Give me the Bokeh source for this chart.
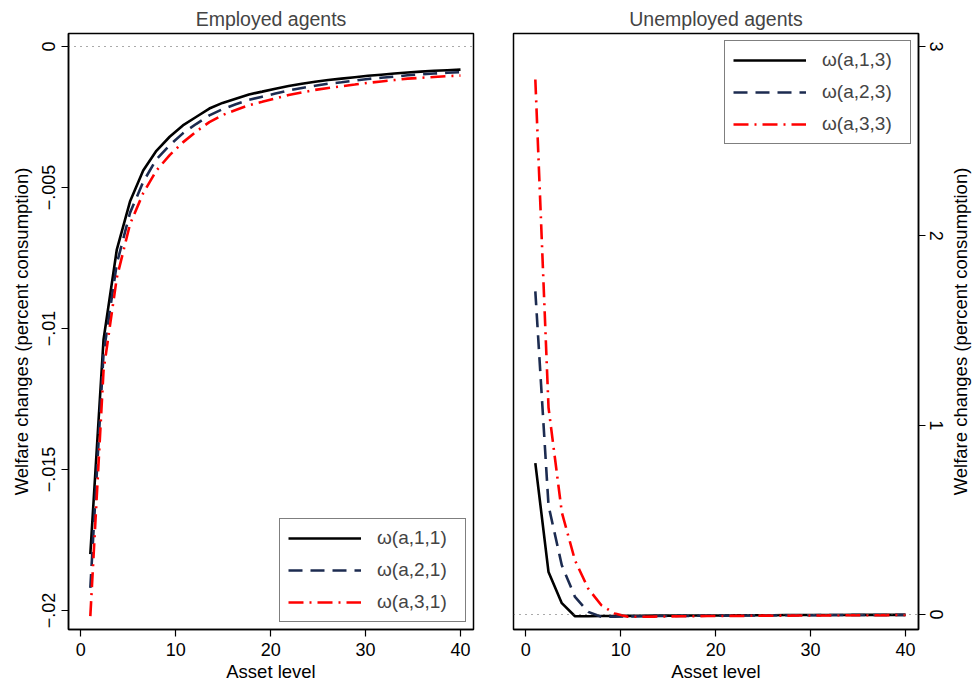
import math
from bokeh.plotting import figure
from bokeh.layouts import row
from bokeh.models import Span, FixedTicker, Legend, LegendItem, Range1d, Label
from bokeh.embed import file_html
from bokeh.resources import INLINE

# ---------------- data ----------------
asset_levels = [1.0, 2.39, 3.79, 5.18, 6.57, 7.96, 9.36, 10.75, 12.14, 13.54,
                14.93, 16.32, 17.71, 19.11, 20.5, 21.89, 23.29, 24.68, 26.07,
                27.46, 28.86, 30.25, 31.64, 33.04, 34.43, 35.82, 37.21, 38.61, 40.0]

emp_w11 = [-0.0180, -0.0104, -0.0072, -0.0055, -0.0044, -0.0037, -0.0032, -0.0028,
           -0.0025, -0.0022, -0.0020, -0.00185, -0.0017, -0.0016, -0.0015, -0.0014,
           -0.00132, -0.00125, -0.00119, -0.00114, -0.00109, -0.00104, -0.00100,
           -0.00096, -0.00092, -0.00089, -0.00086, -0.00084, -0.00082]
emp_w21 = [-0.0192, -0.0109, -0.0077, -0.0059, -0.0048, -0.0040, -0.00350, -0.00308,
           -0.00275, -0.00244, -0.00222, -0.00205, -0.00189, -0.00178, -0.00167,
           -0.00156, -0.00147, -0.00139, -0.00132, -0.00127, -0.00121, -0.00115,
           -0.00111, -0.00107, -0.00102, -0.00099, -0.00096, -0.00093, -0.00091]
emp_w31 = [-0.0202, -0.0115, -0.0082, -0.0063, -0.0052, -0.0044, -0.00385, -0.00340,
           -0.00302, -0.00268, -0.00243, -0.00225, -0.00208, -0.00196, -0.00184,
           -0.00172, -0.00163, -0.00154, -0.00147, -0.00141, -0.00135, -0.00129,
           -0.00124, -0.00119, -0.00114, -0.00111, -0.00108, -0.00105, -0.00103]

unemp_w13 = [0.80, 0.224, 0.060, -0.009, -0.009, -0.008, -0.008, -0.007, -0.007,
             -0.006, -0.006, -0.006, -0.005, -0.005, -0.005, -0.004, -0.004, -0.004,
             -0.004, -0.003, -0.003, -0.003, -0.003, -0.003, -0.002, -0.002, -0.002,
             -0.002, -0.002]
unemp_w23 = [1.707, 0.575, 0.26, 0.093, 0.014, -0.012, -0.011, -0.010, -0.009,
             -0.008, -0.008, -0.007, -0.007, -0.006, -0.006, -0.005, -0.005, -0.005,
             -0.004, -0.004, -0.004, -0.004, -0.003, -0.003, -0.003, -0.003, -0.003,
             -0.002, -0.002]
unemp_w33 = [2.826, 1.093, 0.54, 0.286, 0.137, 0.049, 0.005, -0.012, -0.012,
             -0.011, -0.010, -0.009, -0.009, -0.008, -0.008, -0.007, -0.007, -0.006,
             -0.006, -0.006, -0.005, -0.005, -0.005, -0.004, -0.004, -0.004, -0.004,
             -0.003, -0.003]

x_ticks = [0, 10, 20, 30, 40]
emp_y_ticks = [-0.02, -0.015, -0.01, -0.005, 0]
emp_y_labels = ["\u2212.02", "\u2212.015", "\u2212.01", "\u2212.005", "0"]
unemp_y_ticks = [0, 1, 2, 3]
unemp_y_labels = ["0", "1", "2", "3"]

panel_titles = ["Employed agents", "Unemployed agents"]
emp_labels = ["\u03c9(a,1,1)", "\u03c9(a,2,1)", "\u03c9(a,3,1)"]
unemp_labels = ["\u03c9(a,1,3)", "\u03c9(a,2,3)", "\u03c9(a,3,3)"]
x_label = "Asset level"
y_label = "Welfare changes (percent consumption)"

# ---------------- styling ----------------
FONT = "Liberation Sans"
COLORS = ["#000000", "#1c2b50", "#ff0000"]
DASHES = ["solid", "14 8", "15 6 2 6"]
WIDTHS = [2.6, 2.6, 2.6]
H = 685
TOP, BOTTOM = 33, 56
FRAME_H = H - TOP - BOTTOM


def style_axis(ax, label_standoff):
    ax.axis_line_color = "black"
    ax.axis_line_width = 1.5
    ax.major_tick_line_color = "black"
    ax.major_tick_line_width = 1.2
    ax.major_tick_out = 7
    ax.major_tick_in = 0
    ax.minor_tick_out = 0
    ax.minor_tick_in = 0
    ax.major_label_text_font = FONT
    ax.major_label_text_font_size = "18px"
    ax.major_label_text_color = "black"
    ax.major_label_standoff = 6
    ax.axis_label_text_font = FONT
    ax.axis_label_text_font_size = "18.5px"
    ax.axis_label_text_font_style = "normal"
    ax.axis_label_text_color = "black"
    ax.axis_label_standoff = label_standoff


def make_panel(title, yrange, yloc, width, min_left, min_right, ys, labels,
               yticks, ylabels, legend_loc):
    p = figure(width=width, height=H,
               x_range=Range1d(-1.3, 41.37), y_range=Range1d(*yrange),
               y_axis_location=yloc, output_backend="svg", toolbar_location=None,
               min_border_left=min_left, min_border_right=min_right,
               min_border_top=TOP, min_border_bottom=BOTTOM, title=title)
    p.title.text_font = FONT
    p.title.text_font_size = "19.5px"
    p.title.text_font_style = "normal"
    p.title.align = "center"
    p.title.standoff = 7
    p.grid.visible = False
    p.outline_line_color = "black"
    p.outline_line_width = 1.5
    p.background_fill_color = "white"
    p.border_fill_color = "white"

    p.add_layout(Span(location=0, dimension="width", line_color="#555555",
                      line_width=1, line_dash="1 5"))

    items = []
    for y, lab, c, d, w in zip(ys, labels, COLORS, DASHES, WIDTHS):
        r = p.line(asset_levels, y, line_color=c, line_dash=d, line_width=w)
        items.append(LegendItem(label=lab, renderers=[r]))

    leg = Legend(items=items, location=legend_loc, margin=7, padding=8,
                 spacing=10, label_height=20, label_width=80, glyph_width=73,
                 glyph_height=20, label_standoff=16,
                 label_text_font=FONT, label_text_font_size="19px",
                 border_line_color="black", border_line_width=1.2,
                 background_fill_color="white", background_fill_alpha=1.0)
    p.add_layout(leg)

    p.xaxis.ticker = FixedTicker(ticks=x_ticks)
    p.xaxis.axis_label = x_label
    p.yaxis.ticker = FixedTicker(ticks=yticks)
    p.yaxis.major_label_overrides = {t: s for t, s in zip(yticks, ylabels)}
    p.yaxis.major_label_orientation = "vertical"
    for ax in p.xaxis:
        style_axis(ax, 2)
    for ax in p.yaxis:
        style_axis(ax, 8)
    return p


p1 = make_panel(panel_titles[0], (-0.020674, 0.000461), "left", 493, 68, 20,
                [emp_w11, emp_w21, emp_w31], emp_labels,
                emp_y_ticks, emp_y_labels, "bottom_right")
p1.yaxis.axis_label = y_label

p2 = make_panel(panel_titles[1], (-0.0792, 3.0686), "right", 458, 20, 33,
                [unemp_w13, unemp_w23, unemp_w33], unemp_labels,
                unemp_y_ticks, unemp_y_labels, "top_right")
p2.yaxis.major_label_standoff = 4

# narrow strip holding the right-hand axis title (reads bottom-to-top)
p3 = figure(width=21, height=H, x_axis_location=None, y_axis_location=None,
            output_backend="svg", toolbar_location=None, title_location=None,
            min_border_left=0, min_border_right=0, min_border_top=TOP,
            min_border_bottom=BOTTOM)
p3.outline_line_color = None
p3.grid.visible = False
p3.background_fill_color = "white"
p3.border_fill_color = "white"
p3.add_layout(Label(x=9, y=FRAME_H / 2, x_units="screen", y_units="screen",
                    text=y_label, angle=math.pi / 2,
                    text_align="center", text_baseline="middle", text_font=FONT,
                    text_font_size="18.5px", text_color="black"))

layout = row(p1, p2, p3)
open("out.html", "w").write(file_html(layout, INLINE))
